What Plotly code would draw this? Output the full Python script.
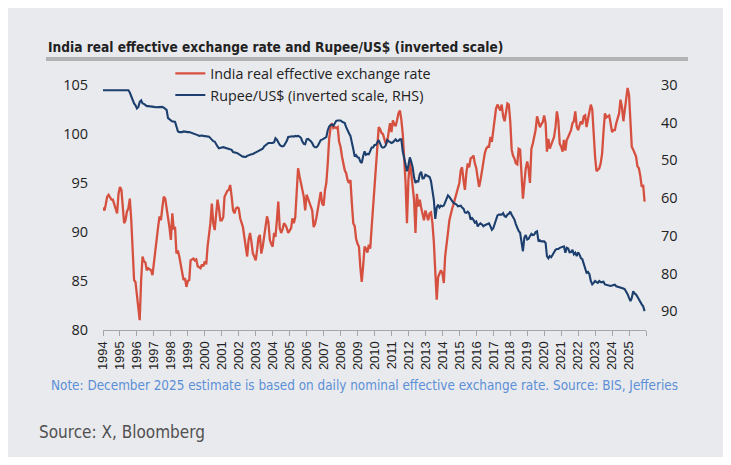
import plotly.graph_objects as go
import pandas as pd

# India real effective exchange rate (LHS), monthly Jan 1994 - Dec 2025
reer = [
    92.5, 92.2, 92.8, 93.6, 93.8, 93.5, 93.3, 93.3, 92.8, 92.4, 91.9, 93.9,   # 1994
    94.6, 94.3, 92.5, 90.9, 91.2, 92.1, 92.4, 93.4, 91.2, 88.0, 85.1, 84.9,   # 1995
    83.7, 82.5, 81.0, 85.1, 87.5, 87.0, 86.9, 86.1, 86.3, 86.2, 86.1, 85.6,   # 1996
    87.0, 88.2, 89.4, 90.5, 91.6, 91.2, 92.5, 93.6, 93.4, 92.4, 91.9, 90.5,   # 1997
    89.2, 91.9, 90.4, 90.5, 87.8, 88.1, 87.5, 86.8, 86.1, 85.1, 85.3, 84.4,   # 1998
    85.0, 85.1, 87.1, 87.2, 87.3, 87.1, 87.2, 86.5, 86.4, 86.3, 86.7, 86.5,   # 1999
    87.0, 86.7, 88.5, 89.5, 90.9, 92.9, 90.9, 90.2, 92.2, 93.3, 92.4, 91.2,   # 2000
    91.2, 91.5, 93.6, 93.9, 94.2, 94.3, 94.8, 93.6, 92.2, 91.9, 92.4, 92.5,   # 2001
    92.4, 91.4, 91.0, 90.5, 89.5, 88.5, 87.5, 89.2, 89.9, 89.0, 87.8, 87.5,   # 2002
    87.1, 88.2, 89.4, 89.7, 87.8, 88.5, 89.5, 90.5, 91.6, 91.0, 89.2, 88.8,   # 2003
    88.5, 89.9, 89.5, 91.2, 93.1, 90.4, 89.9, 90.3, 90.9, 90.7, 90.4, 89.9,   # 2004
    90.2, 90.4, 91.4, 90.9, 91.5, 94.3, 96.5, 95.7, 95.0, 94.6, 93.6, 92.2,   # 2005
    93.8, 93.4, 93.0, 92.6, 92.2, 90.5, 90.8, 91.5, 92.5, 93.6, 94.1, 92.9,   # 2006
    92.7, 94.3, 95.0, 97.0, 99.5, 100.7, 101.1, 100.6, 100.7, 100.6, 100.7, 99.2,   # 2007
    98.7, 97.7, 96.8, 96.3, 96.0, 95.3, 95.0, 95.3, 92.9, 90.9, 90.6, 89.3,   # 2008
    88.8, 88.5, 86.5, 84.9, 86.5, 88.5, 88.3, 87.9, 88.7, 88.3, 90.5, 92.8,   # 2009
    94.7, 97.0, 98.5, 100.7, 100.5, 100.1, 100.0, 99.5, 99.0, 99.2, 100.4, 101.1,   # 2010
    100.2, 101.4, 101.0, 100.8, 101.4, 102.1, 102.4, 101.5, 100.0, 98.0, 95.0, 90.9,   # 2011
    95.3, 97.3, 96.0, 94.6, 93.3, 89.9, 93.9, 92.6, 93.3, 92.5, 91.9, 91.2,   # 2012
    92.2, 91.5, 91.2, 91.9, 92.0, 90.9, 89.0, 86.0, 83.1, 85.4, 85.8, 86.1,   # 2013
    85.8, 84.8, 87.5, 88.5, 89.9, 91.2, 91.9, 92.4, 92.9, 93.5, 94.0, 94.5,   # 2014
    95.0, 96.3, 96.6, 95.3, 94.3, 96.0, 97.0, 96.6, 97.5, 97.6, 97.8, 97.0,   # 2015
    96.5, 95.5, 94.6, 95.3, 96.3, 97.0, 98.0, 98.5, 98.7, 98.7, 99.7, 99.2,   # 2016
    100.4, 102.1, 102.6, 103.0, 102.7, 102.4, 103.0, 101.8, 101.3, 102.0, 103.1, 103.0,   # 2017
    101.3, 98.4, 97.8, 97.5, 97.0, 96.9, 98.5, 98.4, 95.3, 93.4, 95.0, 96.5,   # 2018
    97.2, 96.4, 95.0, 98.5, 99.0, 99.7, 100.4, 101.8, 101.1, 100.7, 101.0, 101.2,   # 2019
    101.9, 101.1, 98.2, 99.5, 98.5, 99.0, 99.3, 99.7, 100.7, 102.3, 101.4, 99.0,   # 2020
    98.7, 98.2, 99.4, 98.3, 99.4, 99.7, 100.0, 100.4, 101.1, 101.3, 102.3, 100.8,   # 2021
    100.4, 100.8, 101.3, 101.0, 101.8, 101.9, 100.7, 101.5, 102.1, 103.0, 102.5, 99.7,   # 2022
    97.7, 96.2, 96.4, 96.5, 97.0, 98.0, 100.2, 102.1, 101.7, 101.8, 101.9, 101.1,   # 2023
    100.2, 100.4, 100.4, 101.1, 101.5, 102.1, 103.5, 102.8, 101.3, 102.4, 103.8, 104.7,   # 2024
    104.0, 101.1, 98.7, 98.4, 98.0, 97.7, 96.7, 96.5, 95.7, 94.6, 94.8, 93.1,   # 2025
]

# Rupee per US$ (RHS, inverted), monthly Jan 1994 - Dec 2025
inr = [
    31.4, 31.4, 31.4, 31.4, 31.4, 31.4, 31.4, 31.4, 31.4, 31.4, 31.4, 31.4,   # 1994
    31.4, 31.4, 31.5, 31.4, 31.4, 31.4, 31.4, 32.0, 33.1, 34.0, 34.9, 35.4,   # 1995
    36.2, 35.8, 34.5, 34.1, 34.9, 35.0, 35.3, 35.6, 35.6, 35.6, 35.7, 35.8,   # 1996
    35.8, 35.9, 35.9, 35.8, 35.8, 35.8, 35.8, 36.0, 36.2, 36.6, 38.8, 39.1,   # 1997
    39.5, 39.7, 39.7, 39.8, 41.0, 42.3, 42.5, 42.6, 42.5, 42.3, 42.4, 42.6,   # 1998
    42.5, 42.5, 42.6, 42.8, 42.9, 43.1, 43.1, 43.3, 43.5, 43.4, 43.4, 43.5,   # 1999
    43.6, 43.6, 43.7, 43.7, 44.1, 44.6, 44.9, 45.0, 45.8, 46.3, 46.8, 46.8,   # 2000
    46.6, 46.5, 46.6, 46.8, 47.0, 47.0, 47.1, 47.2, 47.8, 48.0, 48.0, 48.1,   # 2001
    48.4, 48.7, 48.8, 49.0, 49.0, 49.1, 48.8, 48.6, 48.5, 48.4, 48.3, 48.1,   # 2002
    47.9, 47.8, 47.6, 47.4, 47.2, 46.9, 46.3, 46.0, 45.9, 45.4, 45.4, 45.5,   # 2003
    45.4, 45.2, 44.1, 44.5, 45.4, 45.9, 46.2, 46.3, 46.1, 45.5, 44.8, 43.8,   # 2004
    43.7, 43.6, 43.6, 43.7, 43.5, 43.6, 43.5, 43.7, 44.0, 45.0, 45.6, 45.7,   # 2005
    44.4, 44.3, 44.5, 44.9, 45.4, 46.2, 46.5, 46.5, 46.1, 45.3, 44.6, 44.5,   # 2006
    44.3, 44.2, 43.8, 42.0, 41.0, 40.6, 40.5, 40.8, 40.3, 39.5, 39.4, 39.4,   # 2007
    39.4, 39.7, 40.0, 40.1, 41.2, 42.3, 42.8, 43.5, 45.0, 47.0, 49.0, 48.6,   # 2008
    49.2, 49.3, 50.3, 50.7, 48.9, 47.6, 48.5, 48.3, 48.4, 47.2, 46.6, 46.6,   # 2009
    45.9, 45.9, 45.4, 44.6, 45.5, 46.4, 46.6, 46.5, 46.0, 44.6, 44.9, 45.1,   # 2010
    45.4, 45.2, 44.9, 44.4, 44.9, 44.8, 44.4, 44.4, 47.6, 49.2, 50.9, 52.9,   # 2011
    51.3, 49.2, 50.3, 51.8, 54.5, 56.0, 55.5, 55.6, 53.7, 53.0, 54.8, 54.7,   # 2012
    53.8, 54.0, 54.3, 54.4, 55.5, 58.5, 60.5, 65.5, 62.5, 61.8, 62.5, 62.0,   # 2013
    62.2, 62.0, 61.1, 60.3, 59.3, 59.7, 60.4, 60.8, 61.3, 61.4, 61.7, 62.2,   # 2014
    62.2, 62.0, 62.5, 62.8, 63.8, 63.9, 63.6, 64.0, 65.7, 65.3, 65.8, 66.5,   # 2015
    66.2, 67.5, 67.0, 66.7, 67.0, 67.5, 67.2, 67.0, 67.0, 66.7, 67.5, 68.4,   # 2016
    68.0, 66.8, 65.7, 64.6, 64.4, 64.5, 64.4, 64.0, 64.8, 65.0, 64.4, 64.2,   # 2017
    63.6, 64.4, 65.0, 65.7, 66.9, 67.9, 68.7, 69.2, 72.3, 74.1, 70.5, 69.8,   # 2018
    71.0, 70.8, 70.1, 69.5, 69.8, 69.7, 69.0, 68.8, 71.5, 71.2, 71.5, 71.4,   # 2019
    71.5, 71.9, 75.4, 76.0, 75.4, 75.7, 75.0, 74.6, 73.7, 73.5, 73.5, 73.2,   # 2020
    73.1, 72.8, 72.8, 74.5, 73.2, 73.4, 74.4, 74.3, 73.7, 74.9, 74.5, 75.4,   # 2021
    74.4, 75.0, 75.9, 76.2, 77.3, 78.1, 79.8, 79.6, 80.2, 82.0, 82.9, 82.5,   # 2022
    82.0, 82.3, 82.5, 82.0, 82.3, 82.3, 82.2, 82.9, 83.0, 83.2, 83.3, 83.3,   # 2023
    83.2, 83.0, 83.0, 83.4, 83.5, 83.5, 83.6, 83.9, 84.0, 84.2, 84.7, 85.5,   # 2024
    86.5, 87.3, 86.5, 84.7, 85.3, 85.6, 86.2, 86.9, 87.8, 88.2, 88.7, 90.0,   # 2025
]

tick_years = list(range(1994, 2027))
tick_labels = [str(y) for y in range(1994, 2026)] + [""]

dates = pd.date_range("1994-01-01", periods=len(reer), freq="MS")

BG = "#E9EAEE"
RED = "#D6503F"
BLUE = "#1C3F6E"
COND = "DejaVu Sans Condensed, Liberation Sans Narrow, Roboto, sans-serif"
SANS = "Open Sans, Noto Sans, sans-serif"

W, H = 715, 449   # page has an 8px body margin

fig = go.Figure()
fig.add_trace(go.Scatter(x=dates, y=reer, mode="lines", name="India real effective exchange rate",
                         line=dict(color=RED, width=2.3), yaxis="y"))
fig.add_trace(go.Scatter(x=dates, y=inr, mode="lines", name="Rupee/US$ (inverted scale, RHS)",
                         line=dict(color=BLUE, width=2.1), yaxis="y2"))

fig.update_layout(
    width=W, height=H,
    paper_bgcolor=BG, plot_bgcolor=BG,
    margin=dict(l=95, r=77, t=77, b=127),
    showlegend=True,
    legend=dict(x=0.124, y=1.112, xanchor="left", yanchor="top",
                bgcolor="rgba(0,0,0,0)", font=dict(family=SANS, size=14.3, color="#222"),
                tracegroupgap=0, itemwidth=30),
    xaxis=dict(type="date",
               range=["1994-01-01", "2026-01-01"],
               tickmode="array",
               tickvals=[f"{y}-01-01" for y in tick_years],
               ticktext=tick_labels,
               tickangle=-90,
               ticks="outside", ticklen=5, tickcolor="#A6A6A6", tickwidth=1,
               showline=True, linecolor="#A6A6A6", linewidth=1,
               showgrid=False, zeroline=False,
               tickfont=dict(family="Liberation Sans, Arial, sans-serif", size=13, color="#222")),
    yaxis=dict(range=[80, 105], tickvals=[80, 85, 90, 95, 100, 105],
               showgrid=False, zeroline=False, showline=False, ticks="",
               ticklabelstandoff=14,
               tickfont=dict(family=SANS, size=14.5, color="#222")),
    yaxis2=dict(range=[95, 30], overlaying="y", side="right",
                tickvals=[30, 40, 50, 60, 70, 80, 90],
                showgrid=False, zeroline=False, showline=False, ticks="",
                ticklabelstandoff=14,
                tickfont=dict(family=SANS, size=14.5, color="#222")),
    title=dict(text="<b>India real effective exchange rate and Rupee/US$ (inverted scale)</b>",
               x=40/W, xanchor="left", xref="container",
               y=1 - 39/H, yanchor="middle", yref="container",
               font=dict(family=COND, size=13.6, color="#222")),
)

fig.add_shape(type="line", xref="paper", yref="paper",
              x0=(46-103)/543, x1=(688-103)/543, y0=1 + (85-59)/245, y1=1 + (85-59)/245,
              line=dict(color="#B3B3B3", width=4))

fig.add_annotation(text="Note: December 2025 estimate is based on daily nominal effective exchange rate. Source: BIS, Jefferies",
                   xref="paper", yref="paper", x=(49-103)/543, y=-(385-330)/245,
                   xanchor="left", yanchor="middle", showarrow=False,
                   font=dict(family=COND, size=13.4, color="#5B8FD6"))
fig.add_annotation(text="Source: X, Bloomberg",
                   xref="paper", yref="paper", x=(37-103)/543, y=-(432-330)/245,
                   xanchor="left", yanchor="middle", showarrow=False,
                   font=dict(family=COND, size=17, color="#505050"))

fig.write_html("out.html")
